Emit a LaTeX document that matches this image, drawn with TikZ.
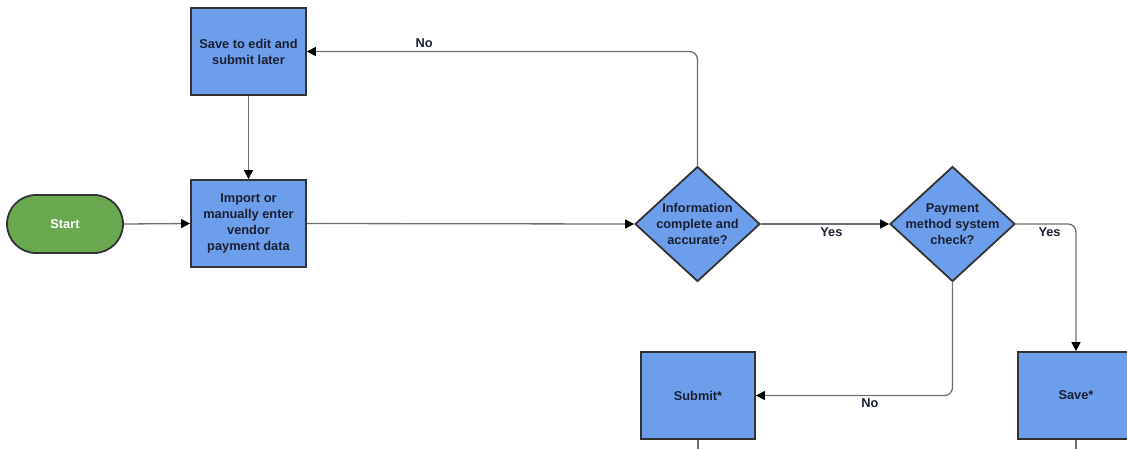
\documentclass[tikz,border=0pt]{standalone}
\usepackage{fontspec}
\setmainfont{Liberation Sans}
\usetikzlibrary{shapes.geometric,arrows.meta}
\definecolor{boxblue}{HTML}{6D9EEB}
\definecolor{startgreen}{HTML}{6AA84F}
\definecolor{edgegray}{HTML}{333333}
\definecolor{linegray}{HTML}{707070}
\definecolor{txtdark}{HTML}{1C2033}
\tikzset{
  basefont/.style={font=\fontsize{12.8}{16}\selectfont\bfseries},
  procbox/.style={draw=edgegray, line width=1.8pt, fill=boxblue, minimum width=115pt, minimum height=87pt, inner sep=0pt, align=center, basefont, text=txtdark},
  dia/.style={diamond, draw=edgegray, line width=1.8pt, fill=boxblue, minimum width=125pt, minimum height=115pt, inner sep=0pt},
  diatext/.style={align=center, basefont, text=txtdark, inner sep=0pt},
  startbox/.style={draw=edgegray, line width=1.8pt, fill=startgreen, rounded corners=29pt, minimum width=116pt, minimum height=58pt, basefont, text=white},
  conn/.style={draw=linegray, line width=1.3pt, rounded corners=8pt, -{Triangle[length=9pt,width=9pt,color=black]}},
  plainconn/.style={draw=linegray, line width=1.3pt},
  lbl/.style={basefont, text=txtdark, inner sep=3pt}
}
\begin{document}
\begin{tikzpicture}[x=1pt,y=-1pt]
\useasboundingbox[fill=white] (0,0) rectangle (1127,448);
\node[procbox] (save) at (248.5,51.5) {Save to edit and\\submit later};
\node[procbox] (import) at (248.5,223.5) {Import or\\manually enter\\vendor\\payment data};
\node[startbox] (start) at (65,224) {Start};
\node[dia] (d1) at (697.5,224) {};
\node[diatext] (d1t) at (697.5,224) {Information\\complete and\\accurate?};
\node[dia] (d2) at (952.5,224) {};
\node[diatext] (d2t) at (952.5,224) {Payment\\method system\\check?};
\node[procbox, minimum width=114pt] (submit) at (698,395.5) {Submit*};
\node[procbox, minimum width=116pt] (save2) at (1076,395.5) {Save*};
\coordinate (subend) at (698,452);
\coordinate (save2end) at (1076,452);

\draw[conn] (start.east) -- (import.west);
\draw[conn] (save.south) -- (import.north);
\draw[conn] (import.east) -- (d1.west);
\draw[conn] (d1.east) -- node[lbl, below, pos=0.55] (yes1) {Yes} (d2.west);
\draw[conn] (d1.north) |- node[lbl, above, pos=0.85] (no1) {No} (save.east);
\draw[conn] (d2.east) -| node[lbl, below, pos=0.28] (yes2) {Yes} (save2.north);
\draw[conn] (d2.south) |- node[lbl, below, pos=0.71] (no2) {No} (submit.east);
\draw[plainconn] (submit.south) -- (subend);
\draw[plainconn] (save2.south) -- (save2end);
\end{tikzpicture}
\end{document}
